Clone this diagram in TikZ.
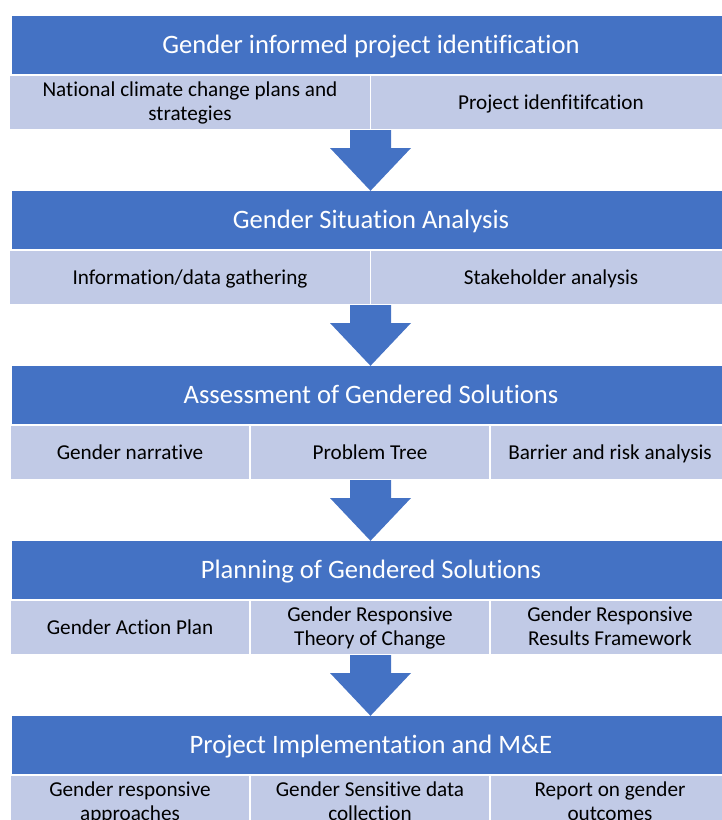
\documentclass[tikz,border=0pt]{standalone}
\usepackage{fontspec}
\setmainfont{Carlito}[Ligatures=NoCommon]
\definecolor{hdrblue}{HTML}{4472C4}
\definecolor{subblue}{HTML}{C1CAE6}
\begin{document}
\begin{tikzpicture}[x=1pt,y=-1pt,
  hdr/.style={fill=hdrblue, draw=none, minimum width=718pt, minimum height=59pt, inner sep=0pt,
    text=white, font=\fontsize{26.6}{31}\selectfont, text height=21pt, text depth=5.4pt},
  subbase/.style={fill=subblue, draw=white, line width=1.2pt, minimum height=55pt,
    inner sep=0pt, align=center, font=\fontsize{21.2}{23.5}\selectfont},
  oneline/.style={text height=17pt, text depth=4pt},
  twoline/.style={text height=40pt, text depth=4.5pt},
  subtwo/.style={subbase, minimum width=361pt},
  subthree/.style={subbase, minimum width=240pt},
  flowarrow/.style={fill=hdrblue, draw=none}
]
\useasboundingbox (0,0) rectangle (722,820);
\clip (0,0) rectangle (722,820);

% Stage 1
\node[hdr] (h1) at (371,45.5) {Gender informed project identification};
\node[subtwo,twoline] (s1a) at (190,102.5) {National climate change plans and\\strategies};
\node[subtwo,oneline] (s1b) at (551,102.5) {Project idenfitifcation};
\coordinate (b1) at (370.5,130);

% Stage 2
\node[hdr] (h2) at (371,220.5) {Gender Situation Analysis};
\node[subtwo,oneline] (s2a) at (190,277.5) {Information/data gathering};
\node[subtwo,oneline] (s2b) at (551,277.5) {Stakeholder analysis};
\coordinate (b2) at (370.5,305);

% Stage 3
\node[hdr] (h3) at (371,395.5) {Assessment of Gendered Solutions};
\node[subthree,oneline] (s3a) at (130,452.5) {Gender narrative};
\node[subthree,oneline] (s3b) at (370,452.5) {Problem Tree};
\node[subthree,oneline] (s3c) at (610,452.5) {Barrier and risk analysis};
\coordinate (b3) at (370.5,480);

% Stage 4
\node[hdr] (h4) at (371,570.5) {Planning of Gendered Solutions};
\node[subthree,oneline] (s4a) at (130,627.5) {Gender Action Plan};
\node[subthree,twoline] (s4b) at (370,627.5) {Gender Responsive\\Theory of Change};
\node[subthree,twoline] (s4c) at (610,627.5) {Gender Responsive\\Results Framework};
\coordinate (b4) at (370.5,655);

% Stage 5
\node[hdr] (h5) at (371,745.5) {Project Implementation and M\&E};
\node[subthree,twoline] (s5a) at (130,802.5) {Gender responsive\\approaches};
\node[subthree,twoline] (s5b) at (370,802.5) {Gender Sensitive data\\collection};
\node[subthree,twoline] (s5c) at (610,802.5) {Report on gender\\outcomes};

% Arrows
\foreach \a/\b in {b1/h2,b2/h3,b3/h4,b4/h5}{
  \fill[flowarrow] ([xshift=-20.5pt]\a) -- ([xshift=-20.5pt,yshift=-18pt]\a)
    -- ([xshift=-40.5pt,yshift=-18pt]\a) -- (\a |- \b.north)
    -- ([xshift=40.5pt,yshift=-18pt]\a) -- ([xshift=20.5pt,yshift=-18pt]\a)
    -- ([xshift=20.5pt]\a) -- cycle;
}
\end{tikzpicture}
\end{document}
